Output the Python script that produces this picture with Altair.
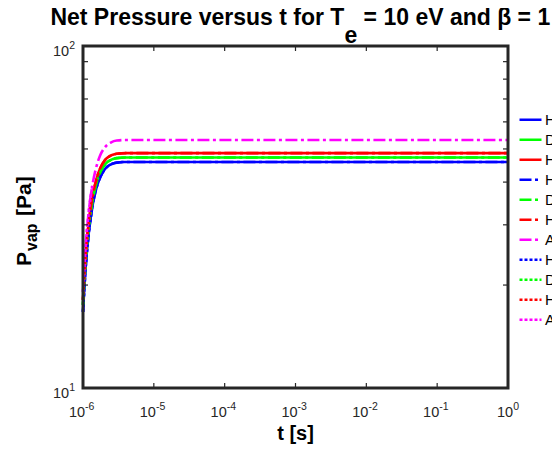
import json
import altair as alt
import pandas as pd

# ---------------- data ----------------
t_s = [1e-6, 1.1e-6, 1.2e-6, 1.35e-6, 1.5e-6, 1.75e-6, 2e-6, 2.5e-6, 3e-6, 4e-6,
       5e-6, 1e-5, 1e-4, 1e-3, 1e-2, 1e-1, 1.0]
p_blue = [16.7, 23.1, 28.1, 33.7, 37.5, 41.3, 43.4, 45.1, 45.6, 45.8,
          45.8, 45.8, 45.8, 45.8, 45.8, 45.8, 45.8]
p_green = [17.5, 24.1, 29.2, 34.8, 38.7, 42.7, 44.8, 46.5, 47.0, 47.2,
           47.2, 47.2, 47.2, 47.2, 47.2, 47.2, 47.2]
p_red = [18.1, 24.9, 30.1, 35.9, 39.8, 43.9, 46.1, 47.9, 48.4, 48.6,
         48.6, 48.6, 48.6, 48.6, 48.6, 48.6, 48.6]
p_magenta = [19.1, 26.6, 32.5, 38.9, 43.3, 47.9, 50.3, 52.3, 52.9, 53.1,
             53.1, 53.1, 53.1, 53.1, 53.1, 53.1, 53.1]
n_dotted = 4  # dotted curves only cover the first points

legend_labels = ["H", "D", "H", "H", "D", "H", "A", "H", "D", "H", "A"]
series_colors = ["#0000FF", "#00FF00", "#FF0000",
                 "#0000FF", "#00FF00", "#FF0000", "#FF00FF",
                 "#0000FF", "#00FF00", "#FF0000", "#FF00FF"]
series_styles = ["solid", "solid", "solid",
                 "dashdot", "dashdot", "dashdot", "dashdot",
                 "dotted", "dotted", "dotted", "dotted"]
series_values = [p_blue, p_green, p_red,
                 p_blue, p_green, p_red, p_magenta,
                 p_blue, p_green, p_red, p_magenta]

x_ticks = [1e-6, 1e-5, 1e-4, 1e-3, 1e-2, 1e-1, 1.0]
x_tick_exp = ["-6", "-5", "-4", "-3", "-2", "-1", "0"]
y_ticks = [10, 100]
y_tick_exp = ["1", "2"]
tick_base = "10"
y_minor = [20, 30, 40, 50, 60, 70, 80, 90]

title_a = "Net Pressure versus t for T"
title_sub = "e"
title_b = "= 10 eV and β = 1"

# ---------------- build table ----------------
dash_map = {"solid": [1, 0], "dashdot": [12, 3.5, 3, 3.5], "dotted": [3, 2]}
keys = [str(i) for i in range(len(legend_labels))]
rows = []
for k, style, vals in zip(keys, series_styles, series_values):
    n = n_dotted if style == "dotted" else len(t_s)
    for t, p in zip(t_s[:n], vals[:n]):
        rows.append({"t": t, "p": p, "series": k})
df = pd.DataFrame(rows)

W, H = 425, 342
FONT = "Liberation Sans"
DARK = "#262626"
LBL = 14.5   # tick label size
SUP = 10.5   # superscript size

xscale = alt.Scale(type="log", domain=[1e-6, 1], nice=False)
yscale = alt.Scale(type="log", domain=[10, 100], nice=False)

label_expr = json.dumps(legend_labels) + "[toNumber(datum.value)]"

lines = alt.Chart(df).mark_line(strokeWidth=2.6, interpolate="monotone").encode(
    x=alt.X("t:Q", scale=xscale, axis=None),
    y=alt.Y("p:Q", scale=yscale, axis=None),
    color=alt.Color("series:N", scale=alt.Scale(domain=keys, range=series_colors),
                    legend=alt.Legend(title=None, labelExpr=label_expr)),
    strokeDash=alt.StrokeDash("series:N",
                              scale=alt.Scale(domain=keys,
                                              range=[dash_map[s] for s in series_styles]),
                              legend=alt.Legend(title=None, labelExpr=label_expr)),
)

xt = pd.DataFrame({"t": x_ticks})
ym = pd.DataFrame({"p": y_minor})
tick_b = alt.Chart(xt).mark_rule(color=DARK, strokeWidth=1.2).encode(
    x=alt.X("t:Q", scale=xscale), y=alt.value(H), y2=alt.value(H - 5))
tick_t = alt.Chart(xt).mark_rule(color=DARK, strokeWidth=1.2).encode(
    x=alt.X("t:Q", scale=xscale), y=alt.value(0), y2=alt.value(5))
tick_l = alt.Chart(ym).mark_rule(color=DARK, strokeWidth=1.2).encode(
    y=alt.Y("p:Q", scale=yscale), x=alt.value(0), x2=alt.value(5))
tick_r = alt.Chart(ym).mark_rule(color=DARK, strokeWidth=1.2).encode(
    y=alt.Y("p:Q", scale=yscale), x=alt.value(W), x2=alt.value(W - 5))

one = pd.DataFrame({"a": [0]})
frame = alt.Chart(one).mark_rect(fillOpacity=0, stroke=DARK, strokeWidth=3).encode(
    x=alt.value(0), x2=alt.value(W), y=alt.value(0), y2=alt.value(H))


def txt(text, x, y, size, align="left", angle=0, weight="bold", color="black"):
    return alt.Chart(one).mark_text(
        text=text, font=FONT, fontSize=size, fontWeight=weight, align=align,
        baseline="alphabetic", angle=angle, color=color
    ).encode(x=alt.value(x), y=alt.value(y))


def w_text(s, size):
    widths = {"-": 0.584, "1": 0.556, "0": 0.556}
    return sum(widths.get(c, 0.556) for c in s) * size


# tick labels "10" with superscript exponent
tick_layers = []
for tv, ex in zip(x_ticks, x_tick_exp):
    d = pd.DataFrame({"t": [tv]})
    bw, ew = w_text(tick_base, LBL), w_text(ex, SUP)
    start = -(bw + ew) / 2
    tick_layers.append(alt.Chart(d).mark_text(
        text=tick_base, font=FONT, fontSize=LBL, align="left", baseline="alphabetic",
        dx=start, color=DARK).encode(x=alt.X("t:Q", scale=xscale), y=alt.value(H + 29)))
    tick_layers.append(alt.Chart(d).mark_text(
        text=ex, font=FONT, fontSize=SUP, align="left", baseline="alphabetic",
        dx=start + bw, color=DARK).encode(x=alt.X("t:Q", scale=xscale), y=alt.value(H + 22)))
for pv, ex in zip(y_ticks, y_tick_exp):
    d = pd.DataFrame({"p": [pv]})
    ew = w_text(ex, SUP)
    tick_layers.append(alt.Chart(d).mark_text(
        text=tick_base, font=FONT, fontSize=LBL, align="right", baseline="alphabetic",
        dx=-8 - ew, dy=10, color=DARK).encode(y=alt.Y("p:Q", scale=yscale), x=alt.value(0)))
    tick_layers.append(alt.Chart(d).mark_text(
        text=ex, font=FONT, fontSize=SUP, align="right", baseline="alphabetic",
        dx=-8, dy=3, color=DARK).encode(y=alt.Y("p:Q", scale=yscale), x=alt.value(0)))

# title: "Net Pressure versus t for T_e = 10 eV and beta = 1" (right end near page edge)
TS = 23
title_end = 467                       # relative to plot-area origin
b_start = title_end - 8.105 * TS
e_start = b_start - 0.278 * TS - 0.556 * TS
tA = txt(title_a, e_start, -21, TS, align="right")
tE = txt(title_sub, e_start, -3, TS)
tB = txt(title_b, b_start, -21, TS)

# x-axis title
xT = txt("t [s]", W / 2, H + 52, 20, align="center")

# y-axis title "P_vap [Pa]" rotated
yP = txt("P", -52, 220, 21, angle=270)
yV = txt("vap", -46, 205, 16, angle=270)
yU = txt("[Pa]", -52, 170, 21, angle=270)

chart = alt.layer(
    lines, tick_b, tick_t, tick_l, tick_r, frame, *tick_layers,
    tA, tE, tB, xT, yP, yV, yU
).properties(
    width=W, height=H,
    padding={"left": 75, "top": 38, "right": 44, "bottom": 57},
    autosize=alt.AutoSizeParams(type="none"),
    background="white",
).configure_view(
    strokeWidth=0
).configure_legend(
    orient="none", legendX=435, legendY=64, padding=0, symbolType="stroke",
    symbolSize=484, symbolStrokeWidth=2.6, labelFontSize=15, labelFont=FONT,
    labelColor="black", rowPadding=0, clipHeight=19.5, labelOffset=2
)

chart.save("out.html", embed_options={"renderer": "svg", "actions": False})
